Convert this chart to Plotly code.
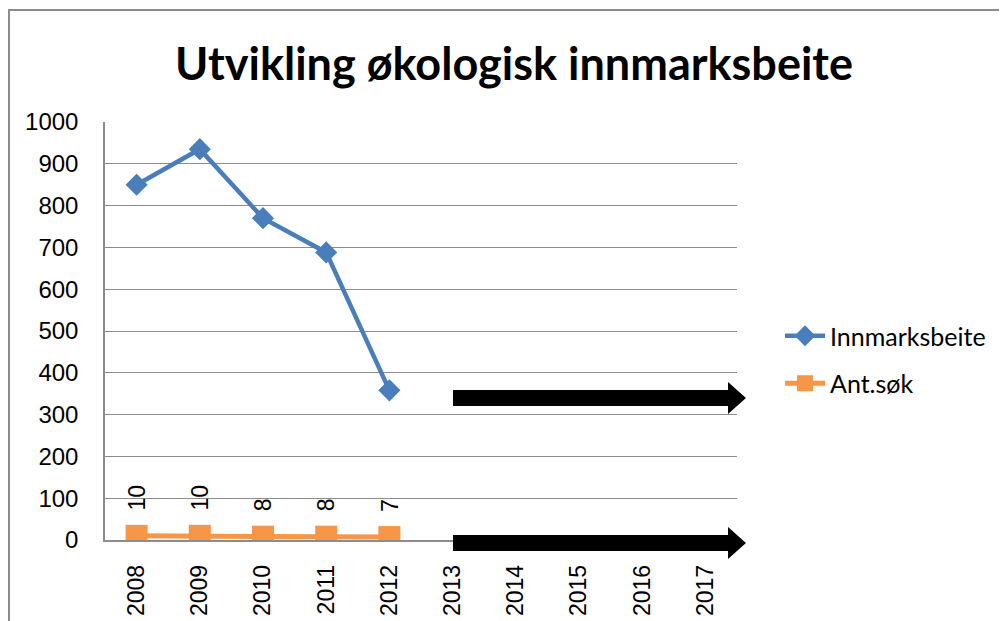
import plotly.graph_objects as go

years = ["2008", "2009", "2010", "2011", "2012", "2013", "2014", "2015", "2016", "2017"]
innmark_years = ["2008", "2009", "2010", "2011", "2012"]
innmark_values = [850, 935, 770, 688, 358]
antsok_values = [10, 10, 8, 8, 7]
y_ticks = [0, 100, 200, 300, 400, 500, 600, 700, 800, 900, 1000]

BLUE = "#4A7EBB"
ORANGE = "#F79646"
GRID = "#8C8C8C"

# page has 8px body margin, so figure is drawn at offset (8, 8)
OFF = 8
W, H = 1007 - OFF, 621 - OFF
# plot area in screen pixels: x 105..737, y 122..540
L, R, T, B = 105, 737, 122, 540

fig = go.Figure()
fig.add_trace(go.Scatter(
    x=innmark_years, y=innmark_values, name="Innmarksbeite", mode="lines+markers",
    line=dict(color=BLUE, width=4.5),
    marker=dict(symbol="diamond", size=17, color=BLUE),
    legendgroup="a",
))
fig.add_trace(go.Scatter(
    x=innmark_years, y=antsok_values, name="Ant.søk", mode="lines+markers",
    line=dict(color=ORANGE, width=5),
    marker=dict(symbol="square", size=22, color=ORANGE),
    legendgroup="b",
))

for i, v in enumerate(antsok_values):
    fig.add_annotation(x=i, y=v, xref="x", yref="y", text=str(v), textangle=-90,
                       showarrow=False, yanchor="bottom", xanchor="center", yshift=23,
                       font=dict(family="Liberation Sans", size=23, color="black"))

def px(x):
    return (x - L) / (R - L)
def py(y):
    return (B - y) / (B - T)

def arrow_path(x0, x1, yc, body=8, head=16, hlen=18):
    xs = x1 - hlen
    pts = [(x0, yc - body), (xs, yc - body), (xs, yc - head), (x1, yc),
           (xs, yc + head), (xs, yc + body), (x0, yc + body)]
    return "M " + " L ".join(f"{px(a):.4f},{py(b):.4f}" for a, b in pts) + " Z"

shapes = []
for yc in (398, 543):
    shapes.append(dict(type="path", xref="paper", yref="paper",
                       path=arrow_path(453, 746, yc), fillcolor="black",
                       line=dict(width=0), layer="above"))
# outer chart border
shapes.append(dict(type="rect", xref="paper", yref="paper",
                   x0=px(9), x1=px(1030), y0=py(640), y1=py(10),
                   line=dict(color="#8C8C8C", width=2), fillcolor="rgba(0,0,0,0)"))

fig.update_layout(
    width=W, height=H,
    margin=dict(l=L - OFF, r=W - (R - OFF), t=T - OFF, b=H - (B - OFF), autoexpand=False),
    paper_bgcolor="white", plot_bgcolor="white",
    title=dict(text="<b>Utvikling økologisk innmarksbeite</b>",
               x=(514 - OFF) / W, xanchor="center", y=1 - (64 - OFF) / H, yanchor="middle",
               font=dict(family="Lato", size=45, color="black")),
    showlegend=True,
    legend=dict(x=px(780), xanchor="left", y=py(313), yanchor="top",
                font=dict(family="Lato", size=25, color="black"),
                traceorder="grouped", tracegroupgap=12,
                bgcolor="rgba(0,0,0,0)", itemwidth=40),
    shapes=shapes,
)
fig.update_xaxes(type="category", categoryorder="array", categoryarray=years,
                 range=[-0.5, 9.5], tickangle=-90, showgrid=False, automargin=False,
                 showline=True, linecolor=GRID, linewidth=1.5,
                 ticks="", ticklabelstandoff=14,
                 tickfont=dict(family="Liberation Sans", size=23, color="black"))
fig.update_yaxes(range=[0, 1000], tickvals=y_ticks, showgrid=True, automargin=False,
                 gridcolor=GRID, gridwidth=1.3, zeroline=False,
                 showline=True, linecolor=GRID, linewidth=1.5,
                 ticks="", ticklabelstandoff=20,
                 tickfont=dict(family="Liberation Sans", size=24, color="black"))

fig.write_html("out.html")
